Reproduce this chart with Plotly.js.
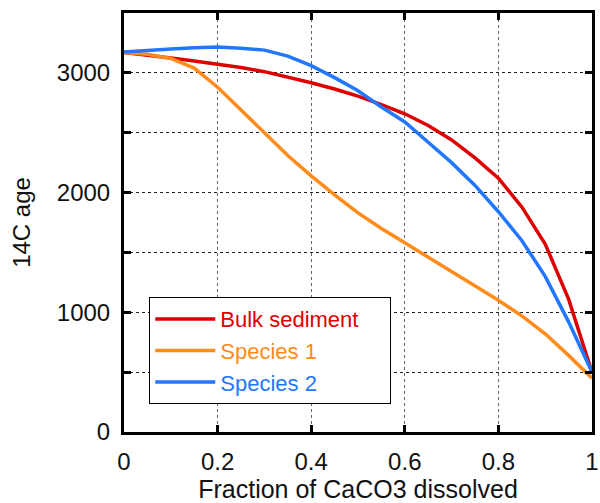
<!DOCTYPE html>
<html><head><meta charset="utf-8">
<script src="https://cdn.plot.ly/plotly-3.0.1.min.js"></script>
<style>html,body{margin:0;padding:0;background:#fff}#chart{width:600px;height:503px}</style>
</head><body><div id="chart"></div>
<script>
const fraction = [0,0.05,0.1,0.15,0.2,0.25,0.3,0.35,0.4,0.45,0.5,0.55,0.6,0.65,0.7,0.75,0.8,0.85,0.9,0.95,1.0];
const bulkSediment = [3170,3150,3125,3100,3075,3045,3010,2965,2917,2865,2805,2735,2658,2560,2440,2290,2120,1880,1570,1110,500];
const species1 = [3170,3155,3120,3040,2880,2690,2490,2310,2140,1980,1830,1700,1580,1460,1340,1220,1100,970,820,640,450];
const species2 = [3175,3190,3200,3210,3215,3205,3190,3140,3060,2960,2850,2715,2590,2420,2250,2060,1840,1600,1300,920,500];
const seriesNames = ['Bulk sediment','Species 1','Species 2'];
const seriesColors = ['#dd0000','#ff8c1a','#2277ff'];
const xTickVals = [0,0.2,0.4,0.6,0.8,1];
const xTickText = ['0','0.2','0.4','0.6','0.8','1'];
const yTickVals = [0,500,1000,1500,2000,2500,3000,3500];
const yTickText = ['0','','1000','','2000','','3000',''];

const ys = [bulkSediment, species1, species2];
const traces = ys.map((y,i)=>({
  x: fraction, y: y, type:'scatter', mode:'lines',
  name: '<span style="color:'+seriesColors[i]+'">'+seriesNames[i]+'</span>',
  line:{color:seriesColors[i], width:3.5}
}));
const font = {family:'Liberation Sans, Arial, sans-serif', size:24, color:'#111'};
const layout = {
  width:600, height:503,
  margin:{l:124,r:8,t:13,b:71},
  paper_bgcolor:'#fff', plot_bgcolor:'#fff',
  font: font,
  showlegend:true,
  legend:{x:0.054,y:0.322,xanchor:'left',yanchor:'top',bgcolor:'#fff',bordercolor:'#000',borderwidth:1,
    orientation:'h', entrywidth:165, entrywidthmode:'pixels',
    font:{family:'Liberation Sans, Arial, sans-serif',size:22}, itemwidth:60, tracegroupgap:0},
  xaxis:{range:[0,1], tickvals:xTickVals, ticktext:xTickText, ticks:'inside', ticklen:7, tickwidth:3, tickcolor:'#000',
    showline:true, linewidth:3, linecolor:'#000', mirror:'ticks',
    showgrid:true, gridcolor:'#666', griddash:'3px,3px', gridwidth:1, zeroline:false,
    tickfont:{size:24}, ticklabelstandoff:6,
    title:{text:'Fraction of CaCO3 dissolved', font:{size:25}, standoff:0}},
  yaxis:{range:[0,3500], tickvals:yTickVals, ticktext:yTickText, ticks:'inside', ticklen:7, tickwidth:3, tickcolor:'#000',
    showline:true, linewidth:3, linecolor:'#000', mirror:'ticks',
    showgrid:true, gridcolor:'#222', griddash:'3px,3px', gridwidth:1, zeroline:false,
    tickfont:{size:24}, ticklabelstandoff:6,
    title:{text:'14C age', font:{size:24}, standoff:20}}
};
Plotly.newPlot('chart', traces, layout, {displayModeBar:false, staticPlot:true});
</script></body></html>
